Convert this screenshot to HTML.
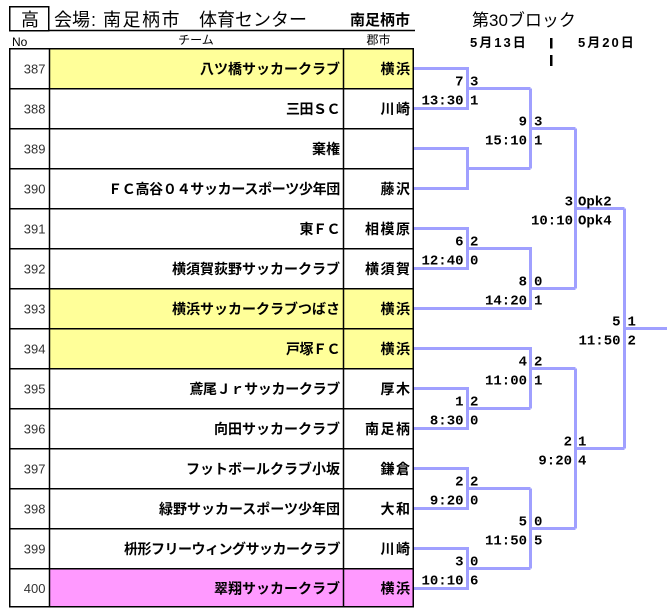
<!DOCTYPE html>
<html><head><meta charset="utf-8"><style>
html,body{margin:0;padding:0;background:#fff;}
svg{display:block;}
.t{font-family:"Liberation Sans","Noto Sans CJK JP",sans-serif;}
.n{font-family:"Liberation Sans",sans-serif;font-size:13px;fill:#333;}
.tm{font-family:"Liberation Sans","Noto Sans CJK JP",sans-serif;font-size:14px;font-weight:bold;fill:#000;}
.ct{font-family:"Liberation Sans","Noto Sans CJK JP",sans-serif;font-size:14px;font-weight:bold;fill:#000;letter-spacing:1.5px;}
.lb{font-family:"Liberation Mono",monospace;font-size:14px;font-weight:bold;fill:#000;}
.br{fill:none;stroke:#a0a0ff;stroke-width:3;stroke-linejoin:miter;stroke-linecap:butt;}
</style></head><body>
<svg width="667" height="613" viewBox="0 0 667 613" xmlns="http://www.w3.org/2000/svg">
<rect x="0" y="0" width="667" height="613" fill="#fff"/>

<!-- header -->
<rect x="9.75" y="6.75" width="39" height="24" fill="none" stroke="#000" stroke-width="1.5"/>
<text class="t" x="30" y="26" font-size="18" text-anchor="middle">高</text>
<rect x="49" y="29.75" width="366" height="1.5" fill="#000"/>
<text class="t" x="54" y="26" font-size="18">会場</text>
<text class="t" x="91" y="26" font-size="18">:</text>
<text class="t" x="103" y="26" font-size="18" letter-spacing="1.5">南足柄市</text>
<text class="t" x="199" y="26" font-size="18">体育センター</text>
<text class="t" x="410" y="25" font-size="15" font-weight="bold" text-anchor="end">南足柄市</text>
<text class="t" x="12" y="46" font-size="12">No</text>
<text class="t" x="196" y="44" font-size="12" text-anchor="middle">チーム</text>
<text class="t" x="378.5" y="44" font-size="12" text-anchor="middle">郡市</text>
<text class="t" x="472" y="26" font-size="17">第30ブロック</text>
<text class="t" x="470" y="47" font-size="13" font-weight="bold" letter-spacing="2">5月13日</text>
<text class="t" x="578" y="47" font-size="13" font-weight="bold" letter-spacing="2">5月20日</text>
<rect x="550" y="38" width="2.5" height="10.5" fill="#000"/>
<rect x="550" y="55" width="2.5" height="11" fill="#000"/>

<!-- fills -->
<rect x="49" y="48" width="364" height="40" fill="#ffff99"/>
<rect x="49" y="288" width="364" height="80" fill="#ffff99"/>
<rect x="49" y="568" width="364" height="39" fill="#ff99ff"/>

<!-- table grid -->
<g fill="#000">
<rect x="9" y="48" width="405" height="1.5"/>
<rect x="9" y="88" width="405" height="1.5"/>
<rect x="9" y="128" width="405" height="1.5"/>
<rect x="9" y="168" width="405" height="1.5"/>
<rect x="9" y="208" width="405" height="1.5"/>
<rect x="9" y="248" width="405" height="1.5"/>
<rect x="9" y="288" width="405" height="1.5"/>
<rect x="9" y="328" width="405" height="1.5"/>
<rect x="9" y="368" width="405" height="1.5"/>
<rect x="9" y="408" width="405" height="1.5"/>
<rect x="9" y="448" width="405" height="1.5"/>
<rect x="9" y="488" width="405" height="1.5"/>
<rect x="9" y="528" width="405" height="1.5"/>
<rect x="9" y="568" width="405" height="1.5"/>
<rect x="9" y="606" width="405" height="1.5"/>
<rect x="9" y="48" width="1.5" height="559.5"/>
<rect x="48.75" y="48" width="1.5" height="559.5"/>
<rect x="342.75" y="48" width="1.5" height="559.5"/>
<rect x="412.5" y="48" width="1.5" height="559.5"/>
</g>

<!-- rows -->
<g>
<text class="n" x="45.5" y="73.5" text-anchor="end">387</text>
<text class="tm" x="340" y="74" text-anchor="end">八ツ橋サッカークラブ</text>
<text class="ct" x="411.5" y="74" text-anchor="end">横浜</text>

<text class="n" x="45.5" y="113.5" text-anchor="end">388</text>
<text class="tm" x="340" y="114" text-anchor="end" letter-spacing="-0.5">三田ＳＣ</text>
<text class="ct" x="411.5" y="114" text-anchor="end">川崎</text>

<text class="n" x="45.5" y="153.5" text-anchor="end">389</text>
<text class="tm" x="340" y="154" text-anchor="end">棄権</text>

<text class="n" x="45.5" y="193.5" text-anchor="end">390</text>
<text class="tm" x="340" y="194" text-anchor="end" letter-spacing="-0.3">ＦＣ高谷０４サッカースポーツ少年団</text>
<text class="ct" x="411.5" y="194" text-anchor="end">藤沢</text>

<text class="n" x="45.5" y="233.5" text-anchor="end">391</text>
<text class="tm" x="340" y="234" text-anchor="end" letter-spacing="-0.5">東ＦＣ</text>
<text class="ct" x="411.5" y="234" text-anchor="end">相模原</text>

<text class="n" x="45.5" y="273.5" text-anchor="end">392</text>
<text class="tm" x="340" y="274" text-anchor="end">横須賀荻野サッカークラブ</text>
<text class="ct" x="411.5" y="274" text-anchor="end">横須賀</text>

<text class="n" x="45.5" y="313.5" text-anchor="end">393</text>
<text class="tm" x="340" y="314" text-anchor="end">横浜サッカークラブつばさ</text>
<text class="ct" x="411.5" y="314" text-anchor="end">横浜</text>

<text class="n" x="45.5" y="353.5" text-anchor="end">394</text>
<text class="tm" x="340" y="354" text-anchor="end" letter-spacing="-0.5">戸塚ＦＣ</text>
<text class="ct" x="411.5" y="354" text-anchor="end">横浜</text>

<text class="n" x="45.5" y="393.5" text-anchor="end">395</text>
<text class="tm" x="340" y="394" text-anchor="end" letter-spacing="-0.3">鳶尾Ｊｒサッカークラブ</text>
<text class="ct" x="411.5" y="394" text-anchor="end">厚木</text>

<text class="n" x="45.5" y="433.5" text-anchor="end">396</text>
<text class="tm" x="340" y="434" text-anchor="end">向田サッカークラブ</text>
<text class="ct" x="411.5" y="434" text-anchor="end">南足柄</text>

<text class="n" x="45.5" y="473.5" text-anchor="end">397</text>
<text class="tm" x="340" y="474" text-anchor="end">フットボールクラブ小坂</text>
<text class="ct" x="411.5" y="474" text-anchor="end">鎌倉</text>

<text class="n" x="45.5" y="513.5" text-anchor="end">398</text>
<text class="tm" x="340" y="514" text-anchor="end">緑野サッカースポーツ少年団</text>
<text class="ct" x="411.5" y="514" text-anchor="end">大和</text>

<text class="n" x="45.5" y="553.5" text-anchor="end">399</text>
<text class="tm" x="340" y="554" text-anchor="end" letter-spacing="-0.5">枡形フリーウィングサッカークラブ</text>
<text class="ct" x="411.5" y="554" text-anchor="end">川崎</text>

<text class="n" x="45.5" y="593" text-anchor="end">400</text>
<text class="tm" x="340" y="593.5" text-anchor="end">翠翔サッカークラブ</text>
<text class="ct" x="411.5" y="593.5" text-anchor="end">横浜</text>
</g>

<!-- bracket -->
<g class="br">
<path d="M414 68.5 H467.5 V108.5 H414"/>
<path d="M467.5 88.5 H530.5"/>
<path d="M414 148.5 H467.5 V188.5 H414"/>
<path d="M467.5 168.5 H530.5"/>
<path d="M530.5 88.5 V168.5"/>
<path d="M530.5 128.5 H575.5"/>
<path d="M414 228.5 H467.5 V268.5 H414"/>
<path d="M467.5 248.5 H530.5 V308.5 H414"/>
<path d="M530.5 288.5 H575.5"/>
<path d="M575.5 128.5 V288.5"/>
<path d="M575.5 208.5 H624.5"/>
<path d="M414 348.5 H530.5 V408.5"/>
<path d="M414 388.5 H467.5 V428.5 H414"/>
<path d="M467.5 408.5 H530.5"/>
<path d="M530.5 368.5 H575.5"/>
<path d="M414 468.5 H467.5 V508.5 H414"/>
<path d="M467.5 488.5 H530.5"/>
<path d="M414 548.5 H467.5 V588.5 H414"/>
<path d="M467.5 568.5 H530.5"/>
<path d="M530.5 488.5 V568.5"/>
<path d="M530.5 528.5 H575.5"/>
<path d="M575.5 368.5 V528.5"/>
<path d="M575.5 448.5 H624.5"/>
<path d="M624.5 208.5 V448.5"/>
<path d="M624.5 328.5 H667"/>
</g>

<!-- bracket labels -->
<g class="lb">
<text x="463.5" y="85.5" text-anchor="end">7</text>
<text x="463.5" y="104.5" text-anchor="end">13:30</text>
<text x="470" y="85.5">3</text>
<text x="470" y="104.5">1</text>

<text x="527" y="125.5" text-anchor="end">9</text>
<text x="527" y="144.5" text-anchor="end">15:10</text>
<text x="534" y="125.5">3</text>
<text x="534" y="144.5">1</text>

<text x="463.5" y="245.5" text-anchor="end">6</text>
<text x="463.5" y="264.5" text-anchor="end">12:40</text>
<text x="470" y="245.5">2</text>
<text x="470" y="264.5">0</text>

<text x="527" y="285.5" text-anchor="end">8</text>
<text x="527" y="304.5" text-anchor="end">14:20</text>
<text x="534" y="285.5">0</text>
<text x="534" y="304.5">1</text>

<text x="573" y="205.5" text-anchor="end">3</text>
<text x="573" y="224.5" text-anchor="end">10:10</text>
<text x="578" y="205.5">Opk2</text>
<text x="578" y="224.5">Opk4</text>

<text x="620.5" y="325.5" text-anchor="end">5</text>
<text x="620.5" y="344.5" text-anchor="end">11:50</text>
<text x="627.5" y="325.5">1</text>
<text x="627.5" y="344.5">2</text>

<text x="527" y="365.5" text-anchor="end">4</text>
<text x="527" y="384.5" text-anchor="end">11:00</text>
<text x="534" y="365.5">2</text>
<text x="534" y="384.5">1</text>

<text x="463.5" y="405.5" text-anchor="end">1</text>
<text x="463.5" y="424.5" text-anchor="end">8:30</text>
<text x="470" y="405.5">2</text>
<text x="470" y="424.5">0</text>

<text x="572" y="445.5" text-anchor="end">2</text>
<text x="572" y="464.5" text-anchor="end">9:20</text>
<text x="578" y="445.5">1</text>
<text x="578" y="464.5">4</text>

<text x="463.5" y="485.5" text-anchor="end">2</text>
<text x="463.5" y="504.5" text-anchor="end">9:20</text>
<text x="470" y="485.5">2</text>
<text x="470" y="504.5">0</text>

<text x="527" y="525.5" text-anchor="end">5</text>
<text x="527" y="544.5" text-anchor="end">11:50</text>
<text x="534" y="525.5">0</text>
<text x="534" y="544.5">5</text>

<text x="463.5" y="565.5" text-anchor="end">3</text>
<text x="463.5" y="584.5" text-anchor="end">10:10</text>
<text x="470" y="565.5">0</text>
<text x="470" y="584.5">6</text>
</g>
</svg>
</body></html>
